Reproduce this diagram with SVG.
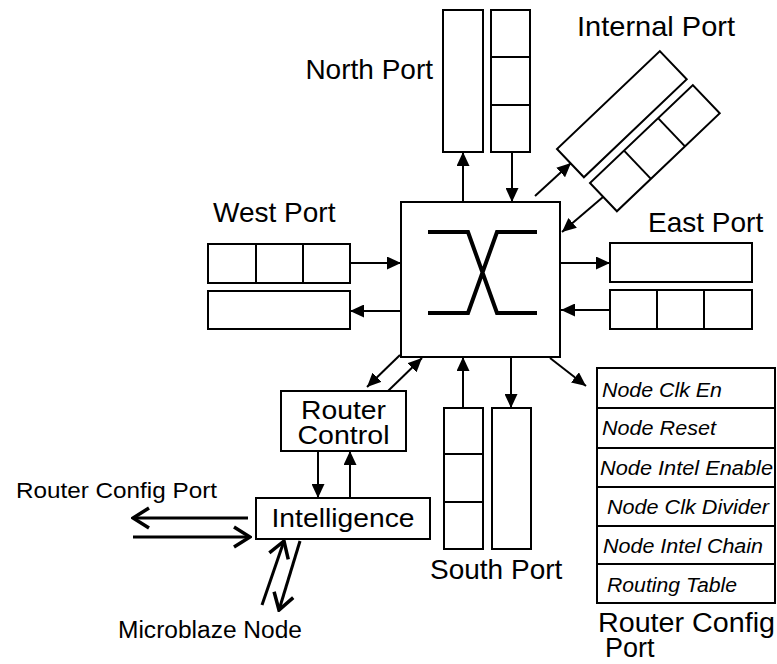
<svg xmlns="http://www.w3.org/2000/svg" width="777" height="664" viewBox="0 0 777 664">
<style>
.box{fill:#fff;stroke:#000;stroke-width:2}
.div{stroke:#000;stroke-width:2}
.lbl{font-family:"Liberation Sans",Arial,sans-serif;fill:#000}
.it{font-family:"Liberation Sans",Arial,sans-serif;font-style:italic;fill:#000;font-size:20px}
.c{fill:none;stroke:#000;stroke-width:2}
.t{fill:none;stroke:#000;stroke-width:3}
</style>
<defs>
<marker id="ah" viewBox="0 0 14 13" refX="14" refY="6.5" markerWidth="14" markerHeight="13" orient="auto" markerUnits="userSpaceOnUse"><path d="M0,0 L14,6.5 L0,13 z" fill="#000"/></marker>
<marker id="oh" viewBox="0 0 20 24" refX="18" refY="12" markerWidth="20" markerHeight="24" orient="auto" markerUnits="userSpaceOnUse"><path d="M2,2 L18,12 L2,22" fill="none" stroke="#000" stroke-width="3.5"/></marker>
</defs>
<rect width="777" height="664" fill="#fff"/>

<g id="crossbar">
<rect class="box" x="401" y="202" width="159" height="155"/>
<path d="M428,232 L468,232 L497,313 L537,313 M428,313 L468,313 L497,232 L537,232" fill="none" stroke="#000" stroke-width="4"/>
</g>

<g id="north-port">
<rect class="box" x="443" y="10" width="40" height="142"/>
<rect class="box" x="491" y="10" width="39" height="142"/>
<line class="div" x1="491" y1="57" x2="530" y2="57"/>
<line class="div" x1="491" y1="105" x2="530" y2="105"/>
<text class="lbl" x="433" y="79" font-size="28" text-anchor="end">North Port</text>
</g>

<g id="internal-port">
<g transform="translate(557,149) rotate(-43.6)">
<rect class="box" x="0" y="0" width="142" height="39"/>
</g>
<g transform="translate(590,183) rotate(-43.6)">
<rect class="box" x="0" y="0" width="142" height="39"/>
<line class="div" x1="47" y1="0" x2="47" y2="39"/>
<line class="div" x1="94" y1="0" x2="94" y2="39"/>
</g>
<text class="lbl" x="577" y="36" font-size="28" textLength="158" lengthAdjust="spacingAndGlyphs">Internal Port</text>
</g>

<g id="west-port">
<rect class="box" x="208" y="244" width="142" height="39"/>
<line class="div" x1="256" y1="244" x2="256" y2="283"/>
<line class="div" x1="303" y1="244" x2="303" y2="283"/>
<rect class="box" x="208" y="291" width="142" height="38"/>
<text class="lbl" x="213" y="222" font-size="28">West Port</text>
</g>

<g id="east-port">
<rect class="box" x="610" y="243" width="142" height="39"/>
<rect class="box" x="610" y="290" width="142" height="39"/>
<line class="div" x1="657" y1="290" x2="657" y2="329"/>
<line class="div" x1="704" y1="290" x2="704" y2="329"/>
<text class="lbl" x="648" y="232" font-size="28">East Port</text>
</g>

<g id="south-port">
<rect class="box" x="444" y="408" width="39" height="141"/>
<line class="div" x1="444" y1="454" x2="483" y2="454"/>
<line class="div" x1="444" y1="502" x2="483" y2="502"/>
<rect class="box" x="492" y="408" width="39" height="141"/>
<text class="lbl" x="430" y="579" font-size="28">South Port</text>
</g>

<g id="router-control">
<rect class="box" x="281" y="391" width="125" height="60"/>
<text class="lbl" x="343.5" y="419" font-size="26" text-anchor="middle" textLength="85" lengthAdjust="spacingAndGlyphs">Router</text>
<text class="lbl" x="343.5" y="444" font-size="26" text-anchor="middle" textLength="92" lengthAdjust="spacingAndGlyphs">Control</text>
</g>

<g id="intelligence">
<rect class="box" x="256" y="498" width="174" height="41"/>
<text class="lbl" x="343" y="527" font-size="26" text-anchor="middle" textLength="143" lengthAdjust="spacingAndGlyphs">Intelligence</text>
</g>

<g id="router-config-port-label">
<text class="lbl" x="16" y="498" font-size="22" textLength="201" lengthAdjust="spacingAndGlyphs">Router Config Port</text>
</g>

<g id="microblaze-node">
<text class="lbl" x="118" y="638" font-size="23" textLength="184" lengthAdjust="spacingAndGlyphs">Microblaze Node</text>
</g>

<g id="router-config-table">
<rect class="box" x="597" y="368" width="178" height="40"/>
<rect class="box" x="597" y="408" width="178" height="40"/>
<rect class="box" x="597" y="448" width="178" height="39"/>
<rect class="box" x="597" y="487" width="178" height="39"/>
<rect class="box" x="597" y="526" width="178" height="38"/>
<rect class="box" x="597" y="564" width="178" height="39"/>
<text class="it" x="602" y="397" textLength="120" lengthAdjust="spacingAndGlyphs">Node Clk En</text>
<text class="it" x="602" y="435" textLength="114" lengthAdjust="spacingAndGlyphs">Node Reset</text>
<text class="it" x="600" y="475" textLength="173" lengthAdjust="spacingAndGlyphs">Node Intel Enable</text>
<text class="it" x="607" y="514" textLength="162" lengthAdjust="spacingAndGlyphs">Node Clk Divider</text>
<text class="it" x="603" y="553" textLength="160" lengthAdjust="spacingAndGlyphs">Node Intel Chain</text>
<text class="it" x="607" y="592" textLength="130" lengthAdjust="spacingAndGlyphs">Routing Table</text>
<text class="lbl" x="598" y="632" font-size="27" textLength="177" lengthAdjust="spacingAndGlyphs">Router Config</text>
<text class="lbl" x="605" y="657" font-size="27">Port</text>
</g>

<g id="connectors">
<path class="c" d="M463,202 L463,152" marker-end="url(#ah)"/>
<path class="c" d="M512,152 L512,202" marker-end="url(#ah)"/>
<path class="c" d="M535,196 L571,163" marker-end="url(#ah)"/>
<path class="c" d="M603,197 L562,232" marker-end="url(#ah)"/>
<path class="c" d="M350,263 L401,263" marker-end="url(#ah)"/>
<path class="c" d="M401,311 L350,311" marker-end="url(#ah)"/>
<path class="c" d="M560,263 L610,263" marker-end="url(#ah)"/>
<path class="c" d="M610,310 L561,310" marker-end="url(#ah)"/>
<path class="c" d="M463,408 L463,357" marker-end="url(#ah)"/>
<path class="c" d="M511,357 L511,408" marker-end="url(#ah)"/>
<path class="c" d="M550,358 L586,386" marker-end="url(#ah)"/>
<path class="c" d="M400,355 L367,387" marker-end="url(#ah)"/>
<path class="c" d="M388,391 L422,358" marker-end="url(#ah)"/>
<path class="c" d="M318,451 L318,498" marker-end="url(#ah)"/>
<path class="c" d="M350,498 L350,451" marker-end="url(#ah)"/>
<path class="t" d="M248,518 L133,518" marker-end="url(#oh)"/>
<path class="t" d="M133,537 L250,537" marker-end="url(#oh)"/>
<path class="t" d="M262,605 L284,541" marker-end="url(#oh)"/>
<path class="t" d="M300,541 L279,610" marker-end="url(#oh)"/>
</g>
</svg>
